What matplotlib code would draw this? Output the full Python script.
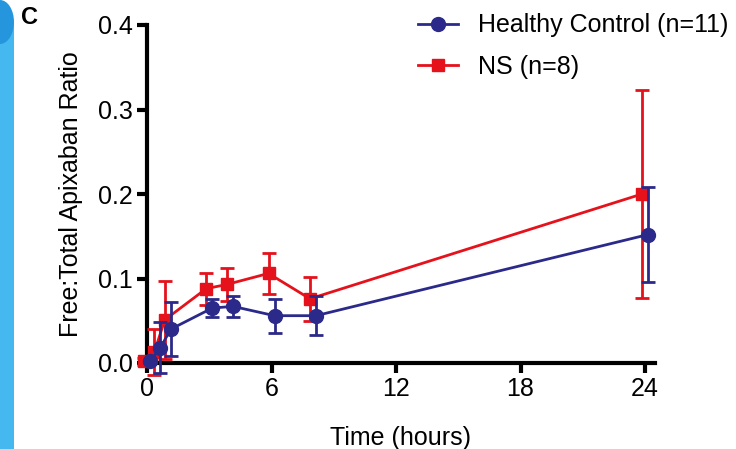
import matplotlib
matplotlib.use("Agg")
import matplotlib.pyplot as plt
import matplotlib.transforms as mtransforms
from matplotlib.patches import Rectangle, Ellipse
from matplotlib.lines import Line2D

plt.rcParams['font.family'] = ['Liberation Sans', 'DejaVu Sans']

# Data
times = [0, 0.5, 1, 3, 4, 6, 8, 24]
hc_mean = [0.002, 0.018, 0.040, 0.065, 0.067, 0.056, 0.056, 0.152]
hc_err = [0.002, 0.030, 0.032, 0.011, 0.012, 0.020, 0.023, 0.056]
ns_mean = [0.002, 0.013, 0.051, 0.088, 0.093, 0.106, 0.076, 0.200]
ns_err = [0.004, 0.027, 0.046, 0.019, 0.020, 0.024, 0.026, 0.123]
hc_label = "Healthy Control (n=11)"
ns_label = "NS (n=8)"
xticks = [0, 6, 12, 18, 24]
yticks = [0.0, 0.1, 0.2, 0.3, 0.4]

W, H = 736, 449
FS = 18
fig = plt.figure(figsize=(W / 100, H / 100), dpi=100)
ax = fig.add_axes([147 / W, 86 / H, (655 - 147) / W, (363 - 25) / H])

blue = '#2b2a8a'
red = '#e5121c'

off_r = mtransforms.ScaledTranslation(-3 / 100, 0, fig.dpi_scale_trans)
off_b = mtransforms.ScaledTranslation(3 / 100, 0, fig.dpi_scale_trans)

ns = ax.errorbar(times, ns_mean, yerr=ns_err, color=red, marker='s', markersize=9,
                 linewidth=2, elinewidth=2, capsize=5, capthick=2, clip_on=False,
                 transform=ax.transData + off_r, zorder=3)
hc = ax.errorbar(times, hc_mean, yerr=hc_err, color=blue, marker='o', markersize=10,
                 linewidth=2, elinewidth=2, capsize=5, capthick=2, clip_on=False,
                 transform=ax.transData + off_b, zorder=4)
for art in (ns, hc):
    for child in art.get_children():
        child.set_clip_on(False)

ax.set_xlim(0, 24.48)
ax.set_ylim(0, 0.4)
ax.set_xticks(xticks)
ax.set_xticklabels([str(t) for t in xticks])
ax.set_yticks(yticks)
ax.set_yticklabels([f"{v:.1f}" for v in yticks])
for s in ['top', 'right']:
    ax.spines[s].set_visible(False)
for s in ['left', 'bottom']:
    ax.spines[s].set_linewidth(3)
ax.tick_params(axis='both', direction='out', length=7, width=3, labelsize=FS, pad=3)
ax.set_xlabel("Time (hours)", fontsize=FS, labelpad=18)
ax.set_ylabel("Free:Total Apixaban Ratio", fontsize=FS, labelpad=11)

h1 = Line2D([], [], color=blue, marker='o', markersize=10, linewidth=2)
h2 = Line2D([], [], color=red, marker='s', markersize=9, linewidth=2)
leg = fig.legend(handles=[h1, h2], labels=[hc_label, ns_label], loc='upper left',
                 bbox_to_anchor=(400 / W, 1.0 + 4 / H), frameon=False, fontsize=FS,
                 handlelength=1.6, handletextpad=0.8, labelspacing=0.7,
                 borderaxespad=0.3)

fig.text(21 / W, 1 - 17 / H, "C", fontsize=17, fontweight='bold', ha='left', va='center')

# left decorative bar
fig.patches.append(Rectangle((0, 0), 14 / W, 1 - 22 / H, transform=fig.transFigure,
                             facecolor='#45b9ef', edgecolor='none', zorder=0))
fig.patches.append(Ellipse((0, 1 - 22 / H), 28 / W, 44 / H, transform=fig.transFigure,
                           facecolor='#2596de', edgecolor='none', zorder=0))

fig.savefig("out.png", dpi=100)
